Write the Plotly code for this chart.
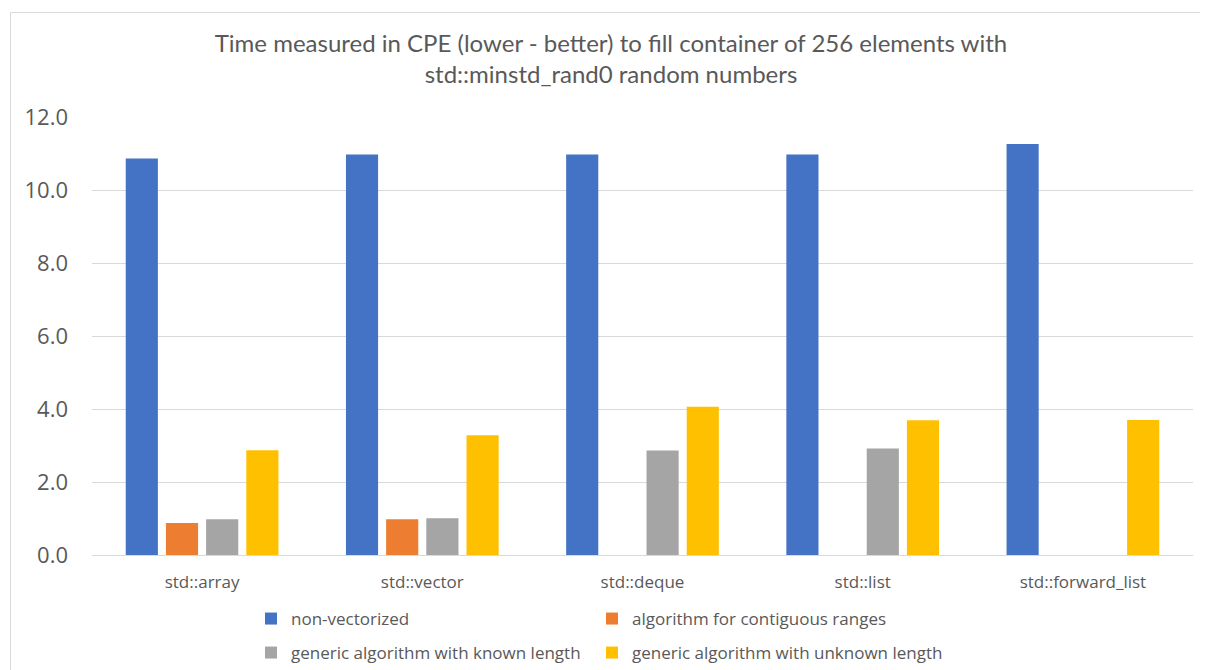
import plotly.graph_objects as go

categories = ["std::array", "std::vector", "std::deque", "std::list", "std::forward_list"]
non_vectorized = [10.86, 10.97, 10.97, 10.97, 11.26]
contiguous = [0.88, 0.98, None, None, None]
known_length = [0.98, 1.01, 2.86, 2.92, None]
unknown_length = [2.87, 3.28, 4.06, 3.69, 3.70]

series_names = ["non-vectorized", "algorithm for contiguous ranges",
                "generic algorithm with known length", "generic algorithm with unknown length"]
series_values = [non_vectorized, contiguous, known_length, unknown_length]
colors = ["#4472C4", "#ED7D31", "#A5A5A5", "#FFC000"]
legend_ids = ["legend", "legend2", "legend3", "legend4"]

# page body has an 8px margin; design in page pixels and convert
OFF = 8
W, H = 1200, 662
L = 92 - OFF
T = 117 - OFF
R = W - (1193 - OFF)
B = H - (555 - OFF)
pw = W - L - R
ph = H - T - B

fig = go.Figure()
for name, vals, c, lg in zip(series_names, series_values, colors, legend_ids):
    fig.add_trace(go.Bar(x=categories, y=vals, name=name, marker=dict(color=c, line=dict(width=0)),
                         legend=lg, showlegend=True))

def px_x(p):
    return (p - OFF - L) / pw

def px_y(p):
    return (H - B - (p - OFF)) / ph

def cx(p):
    return (p - OFF) / W

def cy(p):
    return 1 - (p - OFF) / H

legend_common = dict(orientation="h",
                     font=dict(family="Open Sans", size=17, color="#595959"),
                     bgcolor="rgba(0,0,0,0)", xanchor="left", yanchor="middle",
                     xref="container", yref="container",
                     itemclick=False, tracegroupgap=0)

legend_pos = [(251, 619), (592, 619), (251, 653), (592, 653)]

layout_legends = {}
for lid, (lx, ly) in zip(legend_ids, legend_pos):
    layout_legends[lid] = dict(x=cx(lx), y=cy(ly), **legend_common)

fig.update_layout(
    width=W, height=H,
    showlegend=True,
    margin=dict(l=L, r=R, t=T, b=B, autoexpand=False),
    paper_bgcolor="white", plot_bgcolor="white",
    barmode="group", bargap=0.27, bargroupgap=0.2,
    title=dict(text="Time measured in CPE (lower - better) to fill container of 256 elements with<br>std::minstd_rand0 random numbers",
               x=cx(611), xref="container", xanchor="center",
               y=cy(52), yref="container", yanchor="middle",
               font=dict(family="Lato", size=24, color="#595959")),
    xaxis=dict(showgrid=False, showline=False, ticks="", zeroline=False,
               tickfont=dict(family="Open Sans", size=17, color="#595959"),
               ticklabelstandoff=15),
    yaxis=dict(range=[0, 12], dtick=2, tickformat=".1f", showgrid=True,
               gridcolor="#D9D9D9", gridwidth=1, zeroline=True, zerolinecolor="#D9D9D9",
               zerolinewidth=1, showline=False, ticks="",
               tickfont=dict(family="Open Sans", size=22, color="#595959"),
               ticklabelstandoff=23),
    shapes=[dict(type="rect", xref="paper", yref="paper",
                 x0=px_x(10.5), x1=px_x(1230), y0=px_y(12.5), y1=px_y(700),
                 line=dict(color="#D9D9D9", width=1), fillcolor="rgba(0,0,0,0)", layer="below")],
    **layout_legends,
)

fig.write_html("out.html")
